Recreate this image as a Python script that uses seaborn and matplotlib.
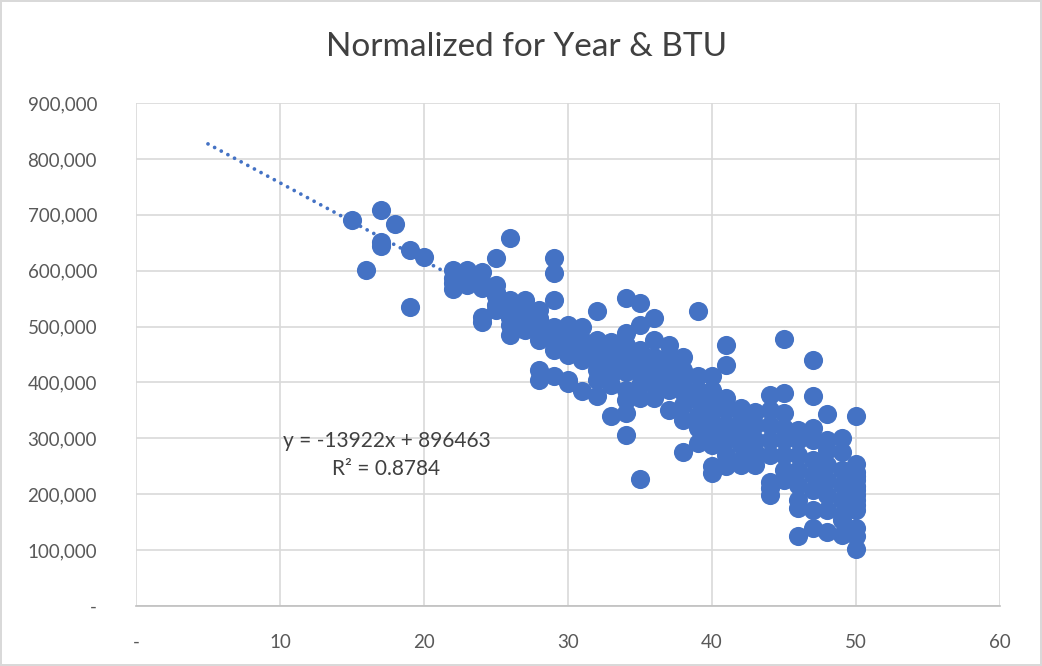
import numpy as np
import pandas as pd
import matplotlib
matplotlib.use("Agg")
import matplotlib.pyplot as plt
import seaborn as sns
from matplotlib.ticker import FuncFormatter, MultipleLocator

# Scatter data (x = BTU bucket, y in thousands)
low_x = [15, 16, 17, 17, 17, 18, 19, 19, 20,
         22, 22, 22, 22, 23, 23, 23, 24, 24, 24, 24, 24,
         25, 25, 25, 25, 25, 25, 26, 26, 26, 26, 26, 26,
         27, 27, 27, 27, 27, 28, 28, 28, 28, 28, 28, 28,
         29, 29, 29, 29, 29, 29, 29, 29]
low_y = [690, 601, 708, 651, 644, 683, 637, 535, 624,
         601, 587, 578, 567, 601, 583, 574, 597, 578, 569, 517, 508,
         622, 574, 562, 555, 538, 530, 658, 547, 530, 515, 503, 485,
         547, 530, 515, 503, 494, 530, 515, 508, 490, 476, 422, 404,
         622, 596, 547, 499, 485, 476, 458, 411]

mid_x = [30, 30, 30, 30, 30, 30, 30, 31, 31, 31, 31, 31,
         32, 32, 32, 32, 32, 32, 32, 33, 33, 33, 33, 33, 33,
         34, 34, 34, 34, 34, 34, 34, 34, 34,
         35, 35, 35, 35, 35, 35, 35, 35,
         36, 36, 36, 36, 36, 36, 37, 37, 37, 37, 37, 37,
         38, 38, 38, 38, 38, 38, 38, 39, 39, 39, 39, 39, 39, 39,
         40, 40, 40, 40, 40, 40, 40, 40, 40]
mid_y = [503, 494, 485, 467, 449, 404, 399, 499, 476, 458, 440, 385,
         528, 476, 458, 440, 422, 404, 376, 472, 449, 431, 413, 395, 340,
         551, 488, 467, 444, 419, 386, 369, 345, 306,
         542, 503, 458, 437, 415, 395, 372, 227,
         515, 476, 445, 419, 395, 372, 467, 449, 431, 408, 386, 351,
         445, 422, 404, 383, 360, 333, 276, 528, 411, 386, 369, 342, 318, 292,
         411, 386, 369, 351, 329, 306, 288, 250, 238]

high_x = [41, 41, 41, 41, 41, 41, 41, 41,
          42, 42, 42, 42, 42, 42, 43, 43, 43, 43, 43,
          44, 44, 44, 44, 44, 44, 44, 44,
          45, 45, 45, 45, 45, 45, 45, 45,
          46, 46, 46, 46, 46, 46, 46, 46,
          47, 47, 47, 47, 47, 47, 47, 47, 47,
          48, 48, 48, 48, 48, 48, 48, 48,
          49, 49, 49, 49, 49, 49, 49, 49,
          50, 50, 50, 50, 50, 50, 50, 50, 50, 50, 50, 50, 50, 50]
high_y = [467, 431, 372, 351, 324, 297, 270, 250,
          354, 333, 311, 288, 261, 252, 347, 324, 297, 276, 252,
          377, 351, 324, 297, 270, 222, 211, 199,
          478, 381, 345, 318, 297, 270, 243, 225,
          315, 297, 270, 243, 216, 190, 175, 125,
          440, 376, 318, 297, 261, 234, 208, 172, 140,
          343, 297, 279, 252, 225, 199, 172, 132,
          300, 276, 243, 216, 190, 163, 154, 127,
          340, 254, 240, 233, 225, 215, 208, 199, 190, 181, 172, 140, 125, 102]

# Excel trendline as shown on the chart
trend_slope = -13922
trend_intercept = 896463
trend_r2 = 0.8784
trend_x = [5, 50]

blue = "#4472C4"

df = pd.DataFrame({
    "btu": low_x + mid_x + high_x,
    "value": np.array(low_y + mid_y + high_y) * 1000,
})

sns.set_style("white")
plt.rcParams["font.family"] = ["Lato", "DejaVu Sans"]

fig = plt.figure(figsize=(10.42, 6.66), dpi=100)
ax = fig.add_axes([0.1305, 0.0901, 0.8292, 0.7552])

# trendline, round dots, drawn beneath the markers
tx = np.array(trend_x)
ax.plot(tx, trend_slope * tx + trend_intercept, color=blue, linestyle=(0, (0.01, 2.0)),
        linewidth=2.7, dash_capstyle="round", zorder=2)

sns.scatterplot(data=df, x="btu", y="value", ax=ax, color=blue, s=190,
                linewidth=0, alpha=1, zorder=3, legend=False)

ax.set_xlim(0, 60)
ax.set_ylim(0, 900000)
ax.xaxis.set_major_locator(MultipleLocator(10))
ax.yaxis.set_major_locator(MultipleLocator(100000))
ax.xaxis.set_major_formatter(FuncFormatter(lambda v, p: "-" if v == 0 else f"{int(v)}"))
ax.yaxis.set_major_formatter(FuncFormatter(lambda v, p: "-" if v == 0 else f"{int(v):,}"))
ax.grid(True, color="#D9D9D9", linewidth=1.2, zorder=0)
ax.set_axisbelow(True)
for side in ["top", "right", "left"]:
    ax.spines[side].set_visible(False)
ax.spines["bottom"].set_color("#BFBFBF")
ax.spines["bottom"].set_linewidth(1.2)
ax.tick_params(axis="both", length=0, labelsize=13.5, labelcolor="#595959")
ax.tick_params(axis="x", pad=20)
ax.tick_params(axis="y", pad=28)
ax.set_xlabel("")
ax.set_ylabel("")

ax.text(17.4, 295000, f"y = {trend_slope}x + {trend_intercept}",
        ha="center", va="center", fontsize=15, color="#404040")
ax.text(17.4, 245000, f"R² = {trend_r2}",
        ha="center", va="center", fontsize=15, color="#404040")

fig.text(0.505, 0.93, "Normalized for Year & BTU", ha="center", va="center",
         fontsize=24, color="#404040")

fig.patch.set_edgecolor("#D9D9D9")
fig.patch.set_linewidth(1.5)
fig.savefig("out.png", dpi=100, edgecolor=fig.get_edgecolor(), facecolor="white")
